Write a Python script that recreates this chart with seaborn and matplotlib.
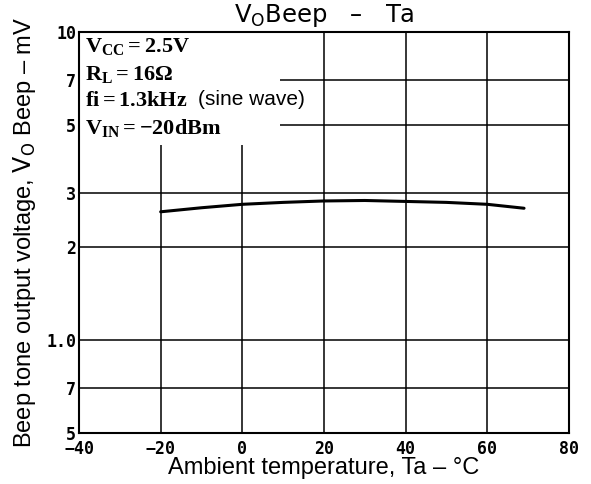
import numpy as np
import pandas as pd
import matplotlib
matplotlib.use("Agg")
import matplotlib.pyplot as plt
import seaborn as sns
from matplotlib.patches import Rectangle

# Values
temp_c = [-20, -10, 0, 10, 20, 30, 40, 50, 60, 69]
vo_beep_mv = [2.61, 2.69, 2.76, 2.80, 2.83, 2.84, 2.82, 2.80, 2.76, 2.68]
x_ticks = [-40, -20, 0, 20, 40, 60, 80]
x_tick_labels = ["\u221240", "\u221220", "0", "20", "40", "60", "80"]
y_ticks = [0.5, 0.7, 1.0, 2, 3, 5, 7, 10]
y_tick_labels = ["5", "7", "1.0", "2", "3", "5", "7", "10"]

df = pd.DataFrame({"Ta": temp_c, "VO": vo_beep_mv})

sns.set_style("white")
plt.rcParams["font.family"] = ["Liberation Sans", "DejaVu Sans"]
plt.rcParams["text.color"] = "black"
plt.rcParams["axes.labelcolor"] = "black"
plt.rcParams["xtick.color"] = "black"
plt.rcParams["ytick.color"] = "black"
plt.rcParams["mathtext.fontset"] = "custom"
plt.rcParams["mathtext.rm"] = "Liberation Serif:bold"
plt.rcParams["mathtext.it"] = "Liberation Serif:bold"
plt.rcParams["mathtext.bf"] = "Liberation Serif:bold"
plt.rcParams["mathtext.sf"] = "DejaVu Sans"

fig = plt.figure(figsize=(5.91, 4.84), dpi=100)
ax = fig.add_axes([0.1337, 0.1054, 0.829, 0.8285])

sns.lineplot(data=df, x="Ta", y="VO", ax=ax, color="black", linewidth=2.2, zorder=3)

ax.set_yscale("log")
ax.set_xlim(-40, 80)
ax.set_ylim(0.5, 10)
tick_font = {"family": ["DejaVu Sans Mono", "DejaVu Sans"], "weight": "bold", "size": 12}
ax.set_xticks(x_ticks)
ax.set_xticklabels(x_tick_labels, fontdict=tick_font)
ax.set_yticks(y_ticks)
ax.set_yticklabels(y_tick_labels, fontdict=tick_font)
ax.yaxis.set_minor_locator(matplotlib.ticker.NullLocator())
ax.tick_params(axis="x", length=0, pad=5)
ax.tick_params(axis="y", length=0, pad=2)

ax.grid(True, which="major", color="black", linewidth=1.1)
ax.set_axisbelow(True)
for s in ax.spines.values():
    s.set_color("black")
    s.set_linewidth(1.5)

# white box behind the conditions text
ax.add_patch(Rectangle((0, 0.718), 0.41, 0.282, transform=ax.transAxes,
                       facecolor="white", edgecolor="none", zorder=1.5))

cond_kw = dict(transform=ax.transAxes, fontsize=16, va="center", ha="left", zorder=4)
ax.text(0.012, 0.963, r"$\mathrm{V_{CC}=2.5V}$", **cond_kw)
ax.text(0.012, 0.893, r"$\mathrm{R_{L}=16\Omega}$", **cond_kw)
ax.text(0.012, 0.830, r"$\mathrm{fi=1.3kHz}$", **cond_kw)
ax.text(0.012, 0.761, r"$\mathrm{V_{IN}={-}20dBm}$", **cond_kw)
ax.text(0.242, 0.832, "(sine wave)", transform=ax.transAxes,
        fontsize=15, va="center", ha="left", zorder=4)

ax.set_title(r"$\mathsf{V_O}$Beep   –   Ta", fontsize=17.5, pad=7,
             family=["DejaVu Sans"])
ax.set_xlabel("Ambient temperature, Ta – °C", fontsize=17, labelpad=-1)
ax.set_ylabel(r"Beep tone output voltage, $\mathsf{V_O}$ Beep – mV", fontsize=17, labelpad=6)

fig.savefig("out.png", dpi=100)
